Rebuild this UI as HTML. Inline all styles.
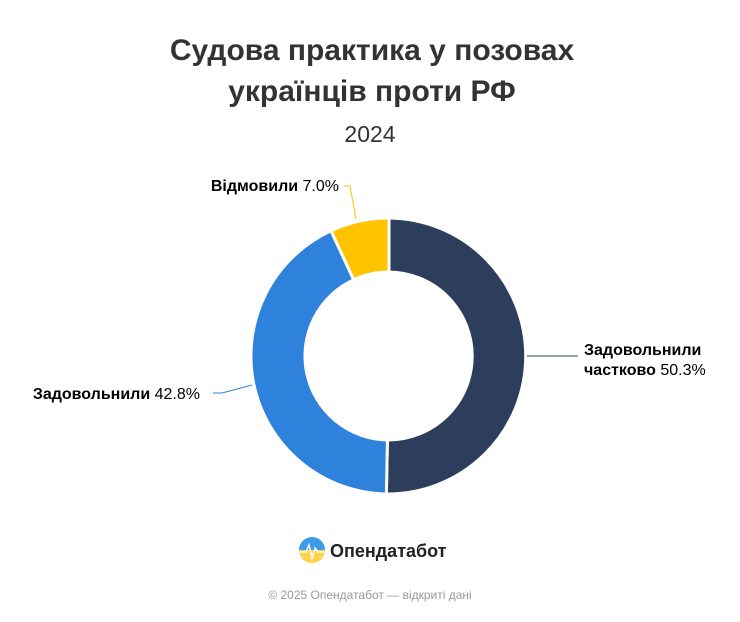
<!DOCTYPE html>
<html><head><meta charset="utf-8"><style>
body{margin:0;background:#fff;width:740px;height:617px;overflow:hidden;font-family:"Liberation Sans","DejaVu Sans",sans-serif}
</style></head><body>
<svg width="740" height="617" viewBox="0 0 740 617" xmlns="http://www.w3.org/2000/svg" font-family="Liberation Sans, DejaVu Sans, sans-serif">
<text x="372" y="60" text-anchor="middle" font-size="30" font-weight="bold" fill="#333">Судова практика у позовах</text>
<text x="372" y="101" text-anchor="middle" font-size="30" font-weight="bold" fill="#333">українців проти РФ</text>
<text x="370" y="142" text-anchor="middle" font-size="23" fill="#333">2024</text>
<g stroke="#fff" stroke-width="3" stroke-linejoin="round">
<path d="M389 218 A138 138 0 1 1 386.4 494 L387.42 440 A84 84 0 1 0 389 272 Z" fill="#2d3d5c"/>
<path d="M386.4 494 A138 138 0 0 1 331.04 230.76 L353.72 279.77 A84 84 0 0 0 387.42 440 Z" fill="#2e82dc"/>
<path d="M331.04 230.76 A138 138 0 0 1 389 218 L389 272 A84 84 0 0 0 353.72 279.77 Z" fill="#ffc300"/>
</g>
<g fill="none" stroke-width="1">
<path d="M356 219 L350 186 L344 186" stroke="#ffc300"/>
<path d="M527 356 L578 356" stroke="#2d3d5c"/>
<path d="M252 385 L222 393 L213 393" stroke="#2e82dc"/>
</g>
<text x="339" y="191" text-anchor="end" font-size="16" fill="#000"><tspan font-weight="bold">Відмовили</tspan> 7.0%</text>
<text x="584" y="355" font-size="16" font-weight="bold" fill="#000">Задовольнили</text>
<text x="584" y="375" font-size="16" fill="#000"><tspan font-weight="bold">частково</tspan> 50.3%</text>
<text x="200" y="399" text-anchor="end" font-size="16" fill="#000"><tspan font-weight="bold">Задовольнили</tspan> 42.8%</text>
<defs><clipPath id="c"><circle cx="312" cy="550" r="13"/></clipPath></defs>
<g clip-path="url(#c)">
<rect x="299" y="537" width="26" height="13" fill="#3d9be9"/>
<rect x="299" y="550" width="26" height="13" fill="#ffd34a"/>
<path d="M299 552 L306 552 L309 545 L312 558 L315 548 L318 552 L325 552" stroke="#fff" stroke-width="1.5" fill="none"/>
</g>
<text x="330" y="557" font-size="18" font-weight="bold" fill="#222">Опендатабот</text>
<text x="370" y="599" text-anchor="middle" font-size="12" fill="#999">© 2025 Опендатабот — відкриті дані</text>
</svg>
</body></html>
